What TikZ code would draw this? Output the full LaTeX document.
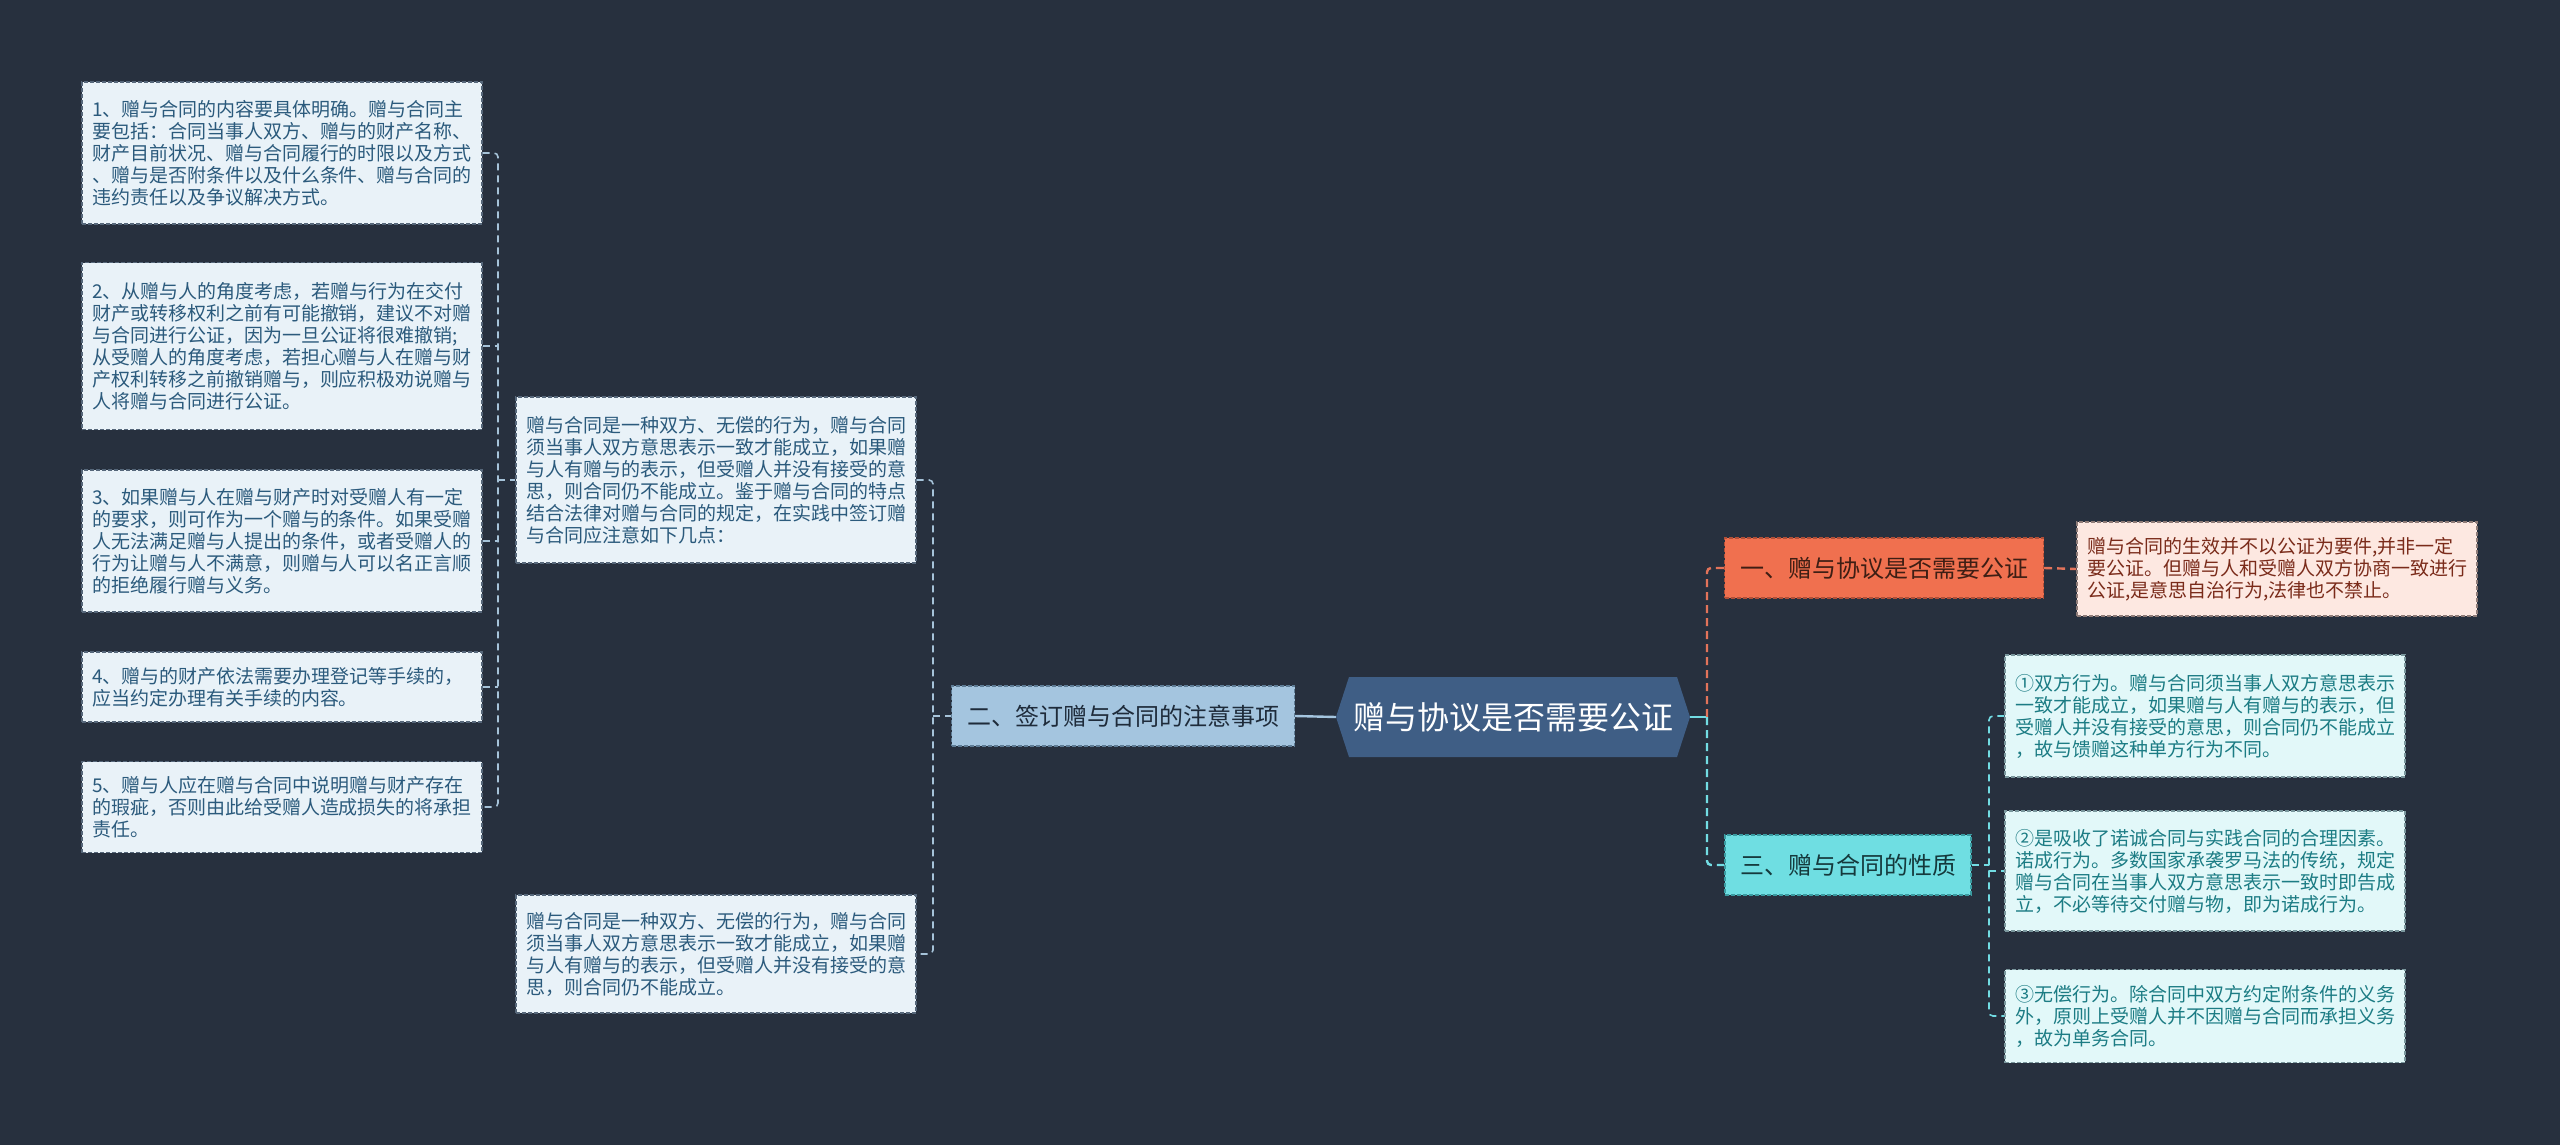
\documentclass[tikz,border=0pt]{standalone}
\usepackage{fontspec}
\setmainfont{Noto Sans CJK SC}
\usetikzlibrary{shapes.symbols}
\definecolor{bg}{HTML}{27303E}
\definecolor{lfill}{HTML}{E9F2F8}
\definecolor{lbord}{HTML}{56677A}
\definecolor{ltext}{HTML}{2B5A7C}
\definecolor{lline}{HTML}{A6C3D9}
\definecolor{erfill}{HTML}{A4C5DF}
\definecolor{erbord}{HTML}{5E7C95}
\definecolor{ertext}{HTML}{1E2B3A}
\definecolor{cfill}{HTML}{3F5E85}
\definecolor{yifill}{HTML}{F0704F}
\definecolor{yibord}{HTML}{B04F38}
\definecolor{yitext}{HTML}{3E1E14}
\definecolor{oline}{HTML}{E2735A}
\definecolor{pfill}{HTML}{FDE8E1}
\definecolor{pbord}{HTML}{8F7C78}
\definecolor{ptext}{HTML}{7A2B1A}
\definecolor{sfill}{HTML}{6FDEE2}
\definecolor{sbord}{HTML}{3A9BA1}
\definecolor{stext}{HTML}{15393C}
\definecolor{cline}{HTML}{72DCE3}
\definecolor{rfill}{HTML}{E2F8F9}
\definecolor{rbord}{HTML}{7A979D}
\definecolor{rtext}{HTML}{1C7C84}
\begin{document}
\begin{tikzpicture}[x=1pt,y=-1pt,
  boxbase/.style={dash pattern=on 4pt off 2pt, line width=1.2pt, inner xsep=10pt, inner ysep=0pt,
    align=left, text width=380pt, font=\fontsize{19}{22}\selectfont, anchor=center},
  lbox/.style={boxbase, draw=lbord, fill=lfill, text=ltext},
  pbox/.style={boxbase, draw=pbord, fill=pfill, text=ptext},
  rbox/.style={boxbase, draw=rbord, fill=rfill, text=rtext},
  topic/.style={dash pattern=on 4pt off 2pt, line width=1.2pt, inner sep=0pt, font=\fontsize{24}{28}\selectfont, minimum height=60pt},
  lconn/.style={draw=lline, line width=1.6pt, dash pattern=on 7pt off 5pt},
  oconn/.style={draw=oline, line width=2.4pt, dash pattern=on 8pt off 5pt},
  cconn/.style={draw=cline, line width=2.4pt, dash pattern=on 8pt off 5pt},
  rconn/.style={draw=cline, line width=1.6pt, dash pattern=on 7pt off 5pt}
]
\fill[bg] (0,0) rectangle (2560,1145);
\useasboundingbox (0,0) rectangle (2560,1145);

% left detail boxes
\node[lbox, minimum height=142pt] (b1) at (282,153) {1、赠与合同的内容要具体明确。赠与合同主\\要包括：合同当事人双方、赠与的财产名称、\\财产目前状况、赠与合同履行的时限以及方式\\、赠与是否附条件以及什么条件、赠与合同的\\违约责任以及争议解决方式。};
\node[lbox, minimum height=167pt] (b2) at (282,346) {2、从赠与人的角度考虑，若赠与行为在交付\\财产或转移权利之前有可能撤销，建议不对赠\\与合同进行公证，因为一旦公证将很难撤销;\\从受赠人的角度考虑，若担心赠与人在赠与财\\产权利转移之前撤销赠与，则应积极劝说赠与\\人将赠与合同进行公证。};
\node[lbox, minimum height=142pt] (b3) at (282,541) {3、如果赠与人在赠与财产时对受赠人有一定\\的要求，则可作为一个赠与的条件。如果受赠\\人无法满足赠与人提出的条件，或者受赠人的\\行为让赠与人不满意，则赠与人可以名正言顺\\的拒绝履行赠与义务。};
\node[lbox, minimum height=70pt] (b4) at (282,687) {4、赠与的财产依法需要办理登记等手续的，\\应当约定办理有关手续的内容。};
\node[lbox, minimum height=91pt] (b5) at (282,807) {5、赠与人应在赠与合同中说明赠与财产存在\\的瑕疵，否则由此给受赠人造成损失的将承担\\责任。};

% middle boxes
\node[lbox, minimum height=166pt] (ba) at (716,480) {赠与合同是一种双方、无偿的行为，赠与合同\\须当事人双方意思表示一致才能成立，如果赠\\与人有赠与的表示，但受赠人并没有接受的意\\思，则合同仍不能成立。鉴于赠与合同的特点\\结合法律对赠与合同的规定，在实践中签订赠\\与合同应注意如下几点：};
\node[lbox, minimum height=118pt] (bb) at (716,954) {赠与合同是一种双方、无偿的行为，赠与合同\\须当事人双方意思表示一致才能成立，如果赠\\与人有赠与的表示，但受赠人并没有接受的意\\思，则合同仍不能成立。};

% topics
\node[topic, draw=erbord, fill=erfill, text=ertext, minimum width=343pt] (er) at (1123,716) {二、签订赠与合同的注意事项};
\node[signal, signal to=east and west, signal pointer angle=144, fill=cfill, text=white, inner sep=0pt,
  minimum width=354pt, minimum height=80pt, font=\fontsize{32}{36}\selectfont] (c) at (1513,717) {赠与协议是否需要公证};
\node[topic, draw=yibord, fill=yifill, text=yitext, minimum width=319pt] (yi) at (1884,568) {一、赠与协议是否需要公证};
\node[topic, draw=sbord, fill=sfill, text=stext, minimum width=246pt] (san) at (1848,865) {三、赠与合同的性质};

% right boxes
\node[pbox, minimum height=94pt] (p1) at (2277,569) {赠与合同的生效并不以公证为要件,并非一定\\要公证。但赠与人和受赠人双方协商一致进行\\公证,是意思自治行为,法律也不禁止。};
\node[rbox, minimum height=122pt] (r1) at (2205,716) {①双方行为。赠与合同须当事人双方意思表示\\一致才能成立，如果赠与人有赠与的表示，但\\受赠人并没有接受的意思，则合同仍不能成立\\，故与馈赠这种单方行为不同。};
\node[rbox, minimum height=120pt] (r2) at (2205,871) {②是吸收了诺诚合同与实践合同的合理因素。\\诺成行为。多数国家承袭罗马法的传统，规定\\赠与合同在当事人双方意思表示一致时即告成\\立，不必等待交付赠与物，即为诺成行为。};
\node[rbox, minimum height=93pt] (r3) at (2205,1016) {③无偿行为。除合同中双方约定附条件的义务\\外，原则上受赠人并不因赠与合同而承担义务\\，故为单务合同。};

% bracket coordinates
\coordinate (LB) at (498,0);
\coordinate (MB) at (933,0);
\coordinate (RJ) at (1707,717);
\coordinate (RB) at (1989,0);

% left group
\draw[lconn, rounded corners=4pt] (b1.east) -- (b1.east -| LB) -- (b5.east -| LB) -- (b5.east);
\draw[lconn] (b2.east) -- (b2.east -| LB);
\draw[lconn] (b3.east) -- (b3.east -| LB);
\draw[lconn] (b4.east) -- (b4.east -| LB);
\draw[lconn] (ba.west -| LB) -- (ba.west);

% middle group
\draw[lconn, rounded corners=4pt] (ba.east) -- (ba.east -| MB) -- (bb.east -| MB) -- (bb.east);
\draw[lconn] (er.west -| MB) -- (er.west);

% center to er
\draw[draw=erfill, line width=2.4pt] (c.west) -- (er.east);

% center to right
\draw[draw=cline, line width=2.4pt] (c.east) -- (RJ);
\draw[oconn, rounded corners=4pt] (RJ) |- (yi.west);
\draw[cconn, rounded corners=4pt] (RJ) |- (san.west);
\draw[oconn] (yi.east) -- (p1.west);

% right group
\draw[rconn, rounded corners=4pt] (r1.west) -- (r1.west -| RB) -- (r3.west -| RB) -- (r3.west);
\draw[rconn] (r2.west -| RB) -- (r2.west);
\draw[rconn] (san.east) -- (san.east -| RB);
\end{tikzpicture}
\end{document}
